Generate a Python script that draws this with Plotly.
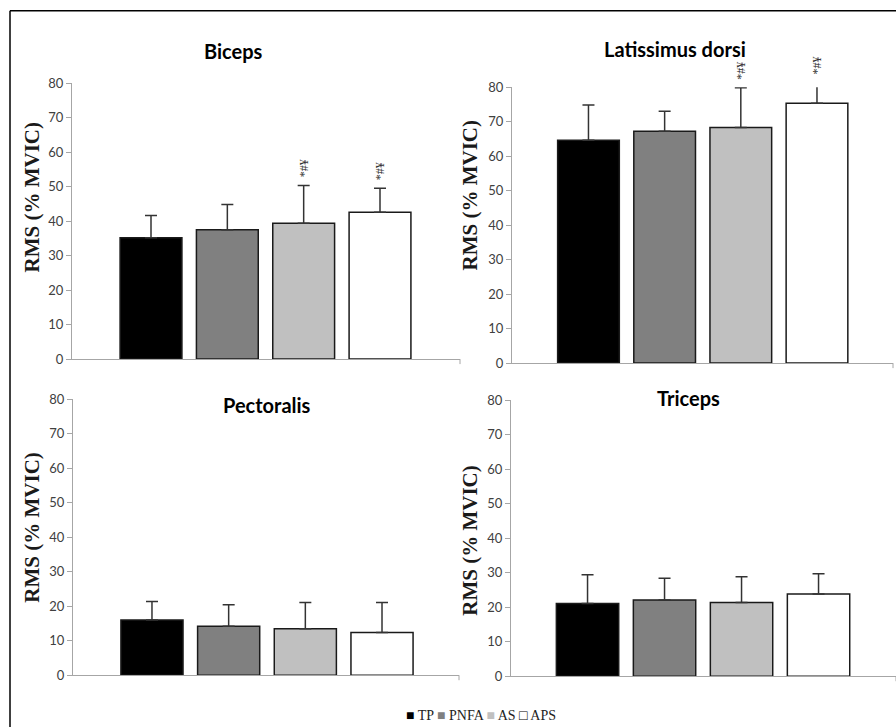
import plotly.graph_objects as go

series = ["TP", "PNFA", "AS", "APS"]
colors = ["#000000", "#808080", "#c0c0c0", "#ffffff"]

muscles = ["Biceps", "Latissimus dorsi", "Pectoralis", "Triceps"]
biceps_mean = [35.2, 37.5, 39.4, 42.6]
biceps_sd = [6.4, 7.3, 10.9, 6.9]
lat_mean = [64.6, 67.2, 68.3, 75.3]
lat_sd = [10.2, 5.8, 11.5, 6.0]
pect_mean = [16.0, 14.2, 13.5, 12.4]
pect_sd = [5.4, 6.2, 7.6, 8.7]
tri_mean = [21.1, 22.1, 21.4, 23.8]
tri_sd = [8.3, 6.3, 7.4, 5.9]
biceps_sig = ["", "", "*#¥", "*#¥"]
lat_sig = ["", "", "*#¥", "*#¥"]
pect_sig = ["", "", "", ""]
tri_sig = ["", "", "", ""]

y_ticks = [0, 10, 20, 30, 40, 50, 60, 70, 80]
y_max = 80
y_title = "RMS (% MVIC)"

W, H = 896, 727
# the page photo maps paper height onto ~708.5 px starting ~9 px down
PY0, PH = 9.15, 708.5


def px_x(v):
    return v / W


def px_y(v):
    return 1 - (v - PY0) / PH


panels = [
    dict(mean=biceps_mean, sd=biceps_sd, sig=biceps_sig, xd=(72, 460), yd=(359, 84), xr=(-1.035, 4.048),
         title_xy=(233, 52), ytitle_xy=(32, 198)),
    dict(mean=lat_mean, sd=lat_sd, sig=lat_sig, xd=(512, 893), yd=(363, 88), xr=(-1.004, 3.998),
         title_xy=(675, 50), ytitle_xy=(470, 196)),
    dict(mean=pect_mean, sd=pect_sd, sig=pect_sig, xd=(73, 459), yd=(674, 399), xr=(-1.030, 4.004),
         title_xy=(267, 405), ytitle_xy=(32, 527)),
    dict(mean=tri_mean, sd=tri_sd, sig=tri_sig, xd=(511, 896), yd=(675, 400), xr=(-0.994, 4.006),
         title_xy=(688, 398), ytitle_xy=(470, 540)),
]

fig = go.Figure()
annotations = []
shapes = []
axis_gray = "#a6a6a6"

for k, p in enumerate(panels):
    sfx = "" if k == 0 else str(k + 1)
    xa, ya = "x" + sfx, "y" + sfx
    for i, s in enumerate(series):
        fig.add_trace(go.Bar(
            x=[s], y=[p["mean"][i]], xaxis=xa, yaxis=ya, width=0.81, cliponaxis=False,
            marker=dict(color=colors[i], line=dict(color="#1a1a1a", width=1.5)),
            error_y=dict(type="data", symmetric=False, array=[p["sd"][i]], arrayminus=[0],
                         color="#333333", thickness=1.5, width=6),
            showlegend=False, name=s,
        ))
        if p["sig"][i]:
            annotations.append(dict(
                x=s, y=(p["mean"][i] + p["sd"][i]) / y_max, xref=xa, yref=ya + " domain", text=p["sig"][i],
                showarrow=False, xanchor="center", yanchor="bottom", yshift=6, textangle=-90,
                font=dict(family="Liberation Serif", size=12, color="#333333"),
            ))
    layout_x = dict(domain=[px_x(p["xd"][0]), min(px_x(p["xd"][1]), 1)], range=list(p["xr"]),
                    type="category", categoryorder="array", categoryarray=series,
                    showline=True, linecolor=axis_gray, linewidth=1, ticks="",
                    showticklabels=False, showgrid=False, zeroline=False, anchor=ya, fixedrange=True)
    layout_y = dict(domain=[px_y(p["yd"][0]), px_y(p["yd"][1])], range=[0, y_max],
                    tickvals=y_ticks, ticks="outside", ticklen=5, tickcolor=axis_gray,
                    showline=True, linecolor=axis_gray, linewidth=1, showgrid=False, zeroline=False,
                    tickfont=dict(family="Lato", size=13, color="#404040"), anchor=xa, fixedrange=True)
    fig.layout["xaxis" + sfx] = layout_x
    fig.layout["yaxis" + sfx] = layout_y
    shapes.append(dict(type="line", xref=xa + " domain", yref="paper", x0=1, x1=1,
                       y0=px_y(p["yd"][0]), y1=px_y(p["yd"][0] + 5),
                       line=dict(color=axis_gray, width=1)))
    annotations.append(dict(x=px_x(p["title_xy"][0]), y=px_y(p["title_xy"][1]), xref="paper", yref="paper",
                            text="<b>" + muscles[k] + "</b>", showarrow=False, xanchor="center", yanchor="middle",
                            font=dict(family="Lato", size=20, color="#000000")))
    annotations.append(dict(x=px_x(p["ytitle_xy"][0]), y=px_y(p["ytitle_xy"][1]), xref="paper", yref="paper",
                            text="<b>" + y_title + "</b>", showarrow=False, textangle=-90,
                            xanchor="center", yanchor="middle",
                            font=dict(family="Liberation Serif", size=21, color="#1a1a1a")))

legend_html = " ".join(
    "<span style='color:%s'>%s</span> %s" % ("#000000" if c == "#ffffff" else c, "□" if c == "#ffffff" else "■", s)
    for s, c in zip(series, colors)
)
annotations.append(dict(x=px_x(481), y=px_y(714), xref="paper", yref="paper", text=legend_html,
                        showarrow=False, xanchor="center", yanchor="middle",
                        font=dict(family="Liberation Serif", size=14, color="#222222")))

# outer frame: top and left edges only (the rest runs off the picture)
shapes.append(dict(type="line", xref="paper", yref="paper", x0=px_x(10), x1=1, y0=px_y(12), y1=px_y(12),
                   line=dict(color="#000000", width=1.5), layer="below"))
shapes.append(dict(type="line", xref="paper", yref="paper", x0=px_x(10), x1=px_x(10), y0=px_y(727), y1=px_y(12),
                   line=dict(color="#000000", width=1.5), layer="below"))

fig.update_layout(
    width=W, height=H, margin=dict(l=0, r=0, t=0, b=0),
    paper_bgcolor="white", plot_bgcolor="white", barmode="overlay",
    annotations=annotations, shapes=shapes, showlegend=False,
)

fig.write_html("out.html", config={"displayModeBar": False},
               post_script="document.body.style.margin='0';document.body.style.overflow='hidden';")
